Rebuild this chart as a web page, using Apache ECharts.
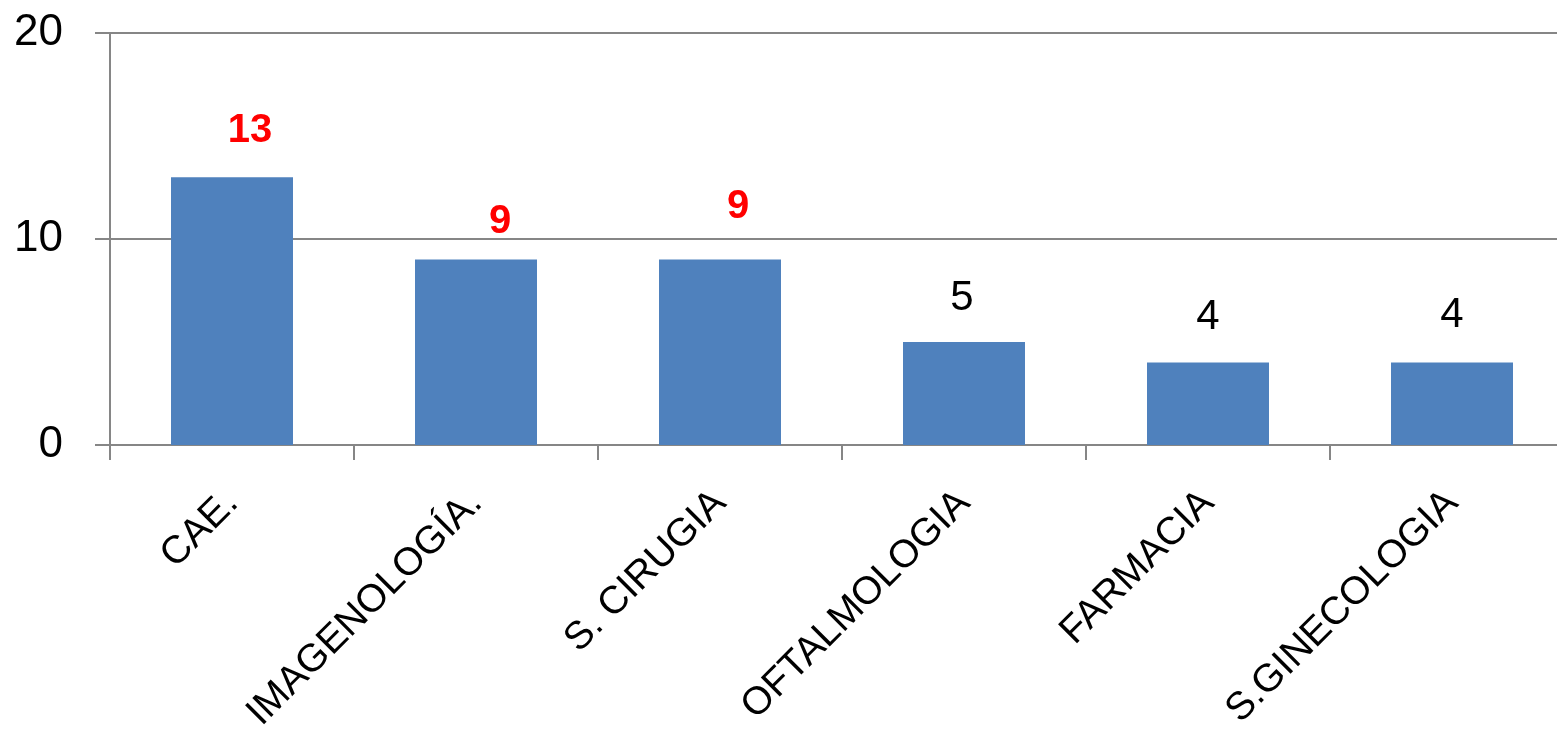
<!DOCTYPE html>
<html>
<head>
<meta charset="utf-8">
<script src="https://cdn.jsdelivr.net/npm/echarts@6/dist/echarts.min.js"></script>
<style>
html,body{margin:0;padding:0;background:#fff;}
#chart{width:1557px;height:741px;}
</style>
</head>
<body>
<div id="chart"></div>
<script>
const categories = ['CAE.', 'IMAGENOLOGÍA.', 'S. CIRUGIA', 'OFTALMOLOGIA', 'FARMACIA', 'S.GINECOLOGIA'];
const values = [13, 9, 9, 5, 4, 4];
const highlighted = [true, true, true, false, false, false];
const labelOffsets = [[18, 0], [24, 8], [18, -7], [-2, 3], [0, 2], [0, 0]];
const yTicks = [0, 10, 20];

const FONT = '"Liberation Sans", Arial, sans-serif';
const chart = echarts.init(document.getElementById('chart'));
chart.setOption({
  animation: false,
  backgroundColor: '#ffffff',
  grid: { left: 110, right: -17, top: 33, bottom: 296, outerBoundsMode: 'none', containLabel: false },
  xAxis: {
    type: 'category',
    data: categories,
    boundaryGap: true,
    axisLine: { lineStyle: { color: '#868686', width: 2 } },
    axisTick: { show: true, length: 15, alignWithLabel: false, lineStyle: { color: '#868686', width: 2 } },
    axisLabel: { rotate: 45, interval: 0, margin: 52, color: '#000', fontSize: 39, fontFamily: FONT }
  },
  yAxis: {
    type: 'value',
    min: yTicks[0],
    max: yTicks[yTicks.length - 1],
    interval: 10,
    axisLine: { show: true, lineStyle: { color: '#868686', width: 2 } },
    axisTick: { show: true, length: 15, lineStyle: { color: '#868686', width: 2 } },
    splitLine: { show: true, lineStyle: { color: '#868686', width: 2 } },
    axisLabel: { margin: 47, color: '#000', fontSize: 44, fontFamily: FONT }
  },
  series: [{
    type: 'bar',
    barWidth: '50%',
    itemStyle: { color: '#4F81BD' },
    data: values.map((v, i) => ({
      value: v,
      label: highlighted[i]
        ? { color: '#FF0000', fontWeight: 'bold', offset: labelOffsets[i] }
        : { color: '#000000', fontWeight: 'normal', fontSize: 42, offset: labelOffsets[i] }
    })),
    label: { show: true, position: 'top', distance: 26, fontSize: 40, fontFamily: FONT }
  }]
});
</script>
</body>
</html>
